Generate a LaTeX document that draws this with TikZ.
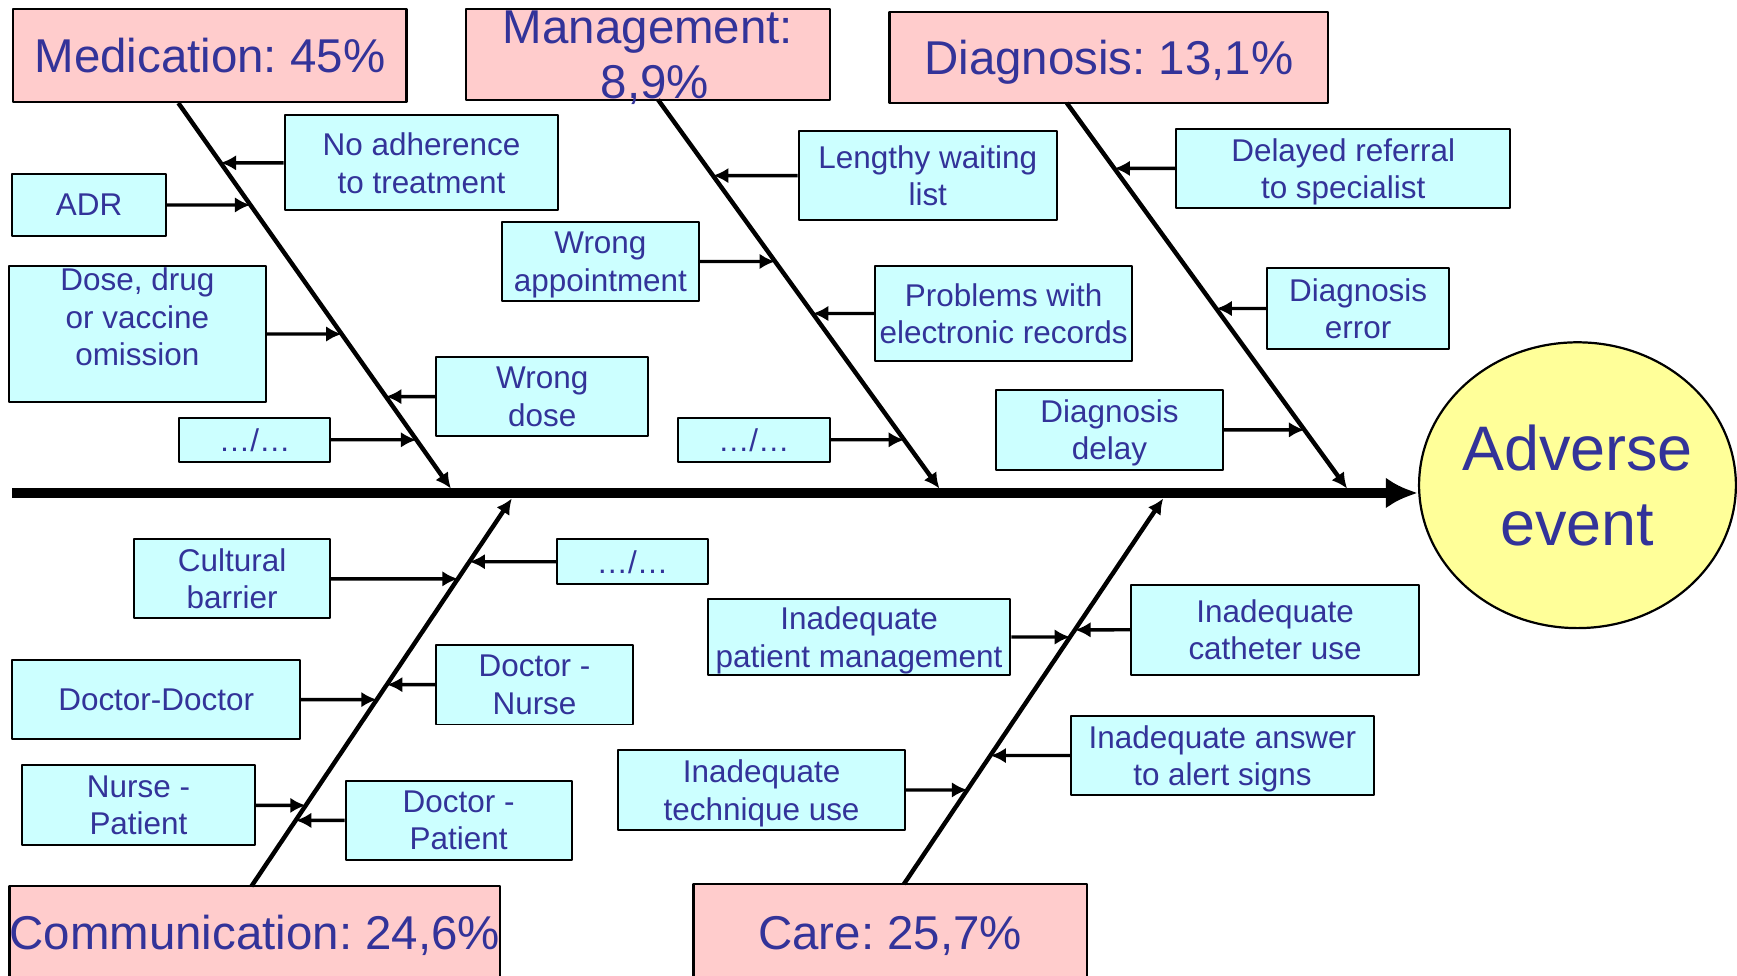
\documentclass[tikz,border=0pt]{standalone}
\usepackage{fontspec}
\setmainfont{Liberation Sans}
\frenchspacing
\usetikzlibrary{arrows.meta,shapes.geometric}
\definecolor{catpink}{HTML}{FFCCCC}
\definecolor{causecyan}{HTML}{CCFFFF}
\definecolor{effectyellow}{HTML}{FFFF99}
\definecolor{labelblue}{HTML}{333399}
\begin{document}
\begin{tikzpicture}[>={Latex[length=14bp,width=14bp]},line join=bevel,
  cat_box/.style={draw,line width=2bp,fill=catpink,text=labelblue,inner sep=0pt,text depth=0pt,align=center,font=\fontsize{43}{50}\selectfont},
  cause_box/.style={draw,line width=1.8bp,fill=causecyan,text=labelblue,inner sep=0pt,text depth=0pt,align=center,font=\fontsize{28.5}{34}\selectfont},
  effect_ellipse/.style={draw,ellipse,line width=2bp,fill=effectyellow,text=labelblue,inner xsep=-6bp,inner ysep=0pt,align=center,font=\fontsize{57}{68}\selectfont,minimum width=286bp,minimum height=258bp},
  bone/.style={line width=4bp,->},
  twig/.style={line width=3bp,->},
  spine/.style={line width=9bp,-{Latex[length=29bp,width=28bp]}}]
\useasboundingbox (0bp,0bp) rectangle (1568bp,-881bp);
%%
\node (cat_med) at (189.5bp,-50bp) [cat_box,minimum width=355bp,minimum height=84bp] {Medication: 45\%};
  \node (cat_mgmt) at (585bp,-49bp) [cat_box,minimum width=328bp,minimum height=82bp] {Management:\\\hspace*{12bp}8,9\%};
  \node (cat_diag) at (1001bp,-52bp) [cat_box,minimum width=396bp,minimum height=82bp] {Diagnosis: 13,1\%};
  \node (cat_comm) at (230bp,-842bp) [cat_box,minimum width=438bp,minimum height=84bp] {Communication: 24,6\%};
  \node (cat_care) at (803.5bp,-842bp) [cat_box,minimum width=355bp,minimum height=88bp] {Care: 25,7\%};
  \node (effect) at (1424bp,-438bp) [effect_ellipse] {Adverse\\event};
%
  \node (cause_noadh) at (380.5bp,-147bp) [cause_box,minimum width=247bp,minimum height=86bp] {No adherence\\to treatment};
  \node (cause_adr) at (80.5bp,-185bp) [cause_box,minimum width=139bp,minimum height=56bp] {ADR};
  \node (cause_dose) at (124bp,-301.5bp) [cause_box,minimum width=232bp,minimum height=123bp] {};
  \node (cause_dose_text) at (124bp,-286bp) [cause_box,draw=none,fill=none] {Dose, drug\\or vaccine\\omission};
  \node (cause_wdose) at (489.5bp,-358bp) [cause_box,minimum width=191bp,minimum height=72bp] {Wrong\\dose};
  \node (cause_med_etc) at (230bp,-397bp) [cause_box,minimum width=136bp,minimum height=40bp] {…/…};
  \node (cause_wait) at (837.5bp,-158.5bp) [cause_box,minimum width=233bp,minimum height=81bp] {Lengthy waiting\\list};
  \node (cause_appt) at (542bp,-236bp) [cause_box,minimum width=178bp,minimum height=72bp] {Wrong\\appointment};
  \node (cause_ehr) at (906bp,-283bp) [cause_box,minimum width=232bp,minimum height=86bp] {Problems with\\electronic records};
  \node (cause_mgmt_etc) at (680.5bp,-397bp) [cause_box,minimum width=137bp,minimum height=40bp] {…/…};
  \node (cause_refer) at (1212.5bp,-152bp) [cause_box,minimum width=301bp,minimum height=72bp] {Delayed referral\\to specialist};
  \node (cause_derr) at (1226bp,-278.5bp) [cause_box,minimum width=164bp,minimum height=73bp] {Diagnosis\\error};
  \node (cause_ddelay) at (1001.5bp,-388bp) [cause_box,minimum width=205bp,minimum height=72bp] {Diagnosis\\delay};
  \node (cause_cult) at (209.5bp,-522.5bp) [cause_box,minimum width=177bp,minimum height=71bp] {Cultural\\barrier};
  \node (cause_comm_etc) at (571bp,-507bp) [cause_box,minimum width=136bp,minimum height=40bp] {…/…};
  \node (cause_dd) at (141bp,-631.5bp) [cause_box,minimum width=260bp,minimum height=71bp] {Doctor-Doctor};
  \node (cause_dn) at (482.5bp,-618bp) [cause_box,minimum width=177bp,minimum height=72bp] {Doctor -\\Nurse};
  \node (cause_np) at (125bp,-727bp) [cause_box,minimum width=210bp,minimum height=72bp] {Nurse -\\Patient};
  \node (cause_dp) at (414bp,-740.5bp) [cause_box,minimum width=204bp,minimum height=71bp] {Doctor -\\Patient};
  \node (cause_pm) at (775.5bp,-575bp) [cause_box,minimum width=273bp,minimum height=68bp] {Inadequate\\patient management};
  \node (cause_cath) at (1151bp,-568.5bp) [cause_box,minimum width=260bp,minimum height=81bp] {Inadequate\\catheter use};
  \node (cause_alert) at (1103.5bp,-682bp) [cause_box,minimum width=273bp,minimum height=72bp] {Inadequate answer\\to alert signs};
  \node (cause_tech) at (687.5bp,-713bp) [cause_box,minimum width=259bp,minimum height=72bp] {Inadequate\\technique use};
%
  \coordinate (spine_tail) at (11bp,-445bp);
  \coordinate (bone_med_top) at (161bp,-93bp);
  \coordinate (bone_med_tip) at (407bp,-441bp);
  \coordinate (bone_mgmt_top) at (594bp,-90bp);
  \coordinate (bone_mgmt_tip) at (848bp,-441bp);
  \coordinate (bone_diag_top) at (963bp,-93bp);
  \coordinate (bone_diag_tip) at (1216bp,-441bp);
  \coordinate (bone_comm_foot) at (227bp,-800bp);
  \coordinate (bone_comm_tip) at (462bp,-450bp);
  \coordinate (bone_care_foot) at (816bp,-798bp);
  \coordinate (bone_care_tip) at (1050bp,-450bp);
%
  \draw [spine] (spine_tail) -- (spine_tail -| effect.west);
  \draw [bone] (bone_med_top) -- (bone_med_tip);
  \draw [bone] (bone_mgmt_top) -- (bone_mgmt_tip);
  \draw [bone] (bone_diag_top) -- (bone_diag_tip);
  \draw [bone] (bone_comm_foot) -- (bone_comm_tip);
  \draw [bone] (bone_care_foot) -- (bone_care_tip);
%
  \draw [twig] (cause_noadh) -- (intersection of bone_med_top--bone_med_tip and cause_noadh.west--cause_noadh.east);
  \draw [twig] (cause_adr) -- (intersection of bone_med_top--bone_med_tip and cause_adr.west--cause_adr.east);
  \draw [twig] (cause_dose) -- (intersection of bone_med_top--bone_med_tip and cause_dose.west--cause_dose.east);
  \draw [twig] (cause_wdose) -- (intersection of bone_med_top--bone_med_tip and cause_wdose.west--cause_wdose.east);
  \draw [twig] (cause_med_etc) -- (intersection of bone_med_top--bone_med_tip and cause_med_etc.west--cause_med_etc.east);
  \draw [twig] (cause_wait) -- (intersection of bone_mgmt_top--bone_mgmt_tip and cause_wait.west--cause_wait.east);
  \draw [twig] (cause_appt) -- (intersection of bone_mgmt_top--bone_mgmt_tip and cause_appt.west--cause_appt.east);
  \draw [twig] (cause_ehr) -- (intersection of bone_mgmt_top--bone_mgmt_tip and cause_ehr.west--cause_ehr.east);
  \draw [twig] (cause_mgmt_etc) -- (intersection of bone_mgmt_top--bone_mgmt_tip and cause_mgmt_etc.west--cause_mgmt_etc.east);
  \draw [twig] (cause_refer) -- (intersection of bone_diag_top--bone_diag_tip and cause_refer.west--cause_refer.east);
  \draw [twig] (cause_derr) -- (intersection of bone_diag_top--bone_diag_tip and cause_derr.west--cause_derr.east);
  \draw [twig] (cause_ddelay) -- (intersection of bone_diag_top--bone_diag_tip and cause_ddelay.west--cause_ddelay.east);
  \draw [twig] (cause_cult) -- (intersection of bone_comm_foot--bone_comm_tip and cause_cult.west--cause_cult.east);
  \draw [twig] (cause_comm_etc) -- (intersection of bone_comm_foot--bone_comm_tip and cause_comm_etc.west--cause_comm_etc.east);
  \draw [twig] (cause_dd) -- (intersection of bone_comm_foot--bone_comm_tip and cause_dd.west--cause_dd.east);
  \draw [twig] (cause_dn) -- (intersection of bone_comm_foot--bone_comm_tip and cause_dn.west--cause_dn.east);
  \draw [twig] (cause_np) -- (intersection of bone_comm_foot--bone_comm_tip and cause_np.west--cause_np.east);
  \draw [twig] (cause_dp) -- (intersection of bone_comm_foot--bone_comm_tip and cause_dp.west--cause_dp.east);
  \draw [twig] (cause_pm) -- (intersection of bone_care_foot--bone_care_tip and cause_pm.west--cause_pm.east);
  \draw [twig] (cause_cath) -- (intersection of bone_care_foot--bone_care_tip and cause_cath.west--cause_cath.east);
  \draw [twig] (cause_alert) -- (intersection of bone_care_foot--bone_care_tip and cause_alert.west--cause_alert.east);
  \draw [twig] (cause_tech) -- (intersection of bone_care_foot--bone_care_tip and cause_tech.west--cause_tech.east);
%
\end{tikzpicture}
\end{document}
